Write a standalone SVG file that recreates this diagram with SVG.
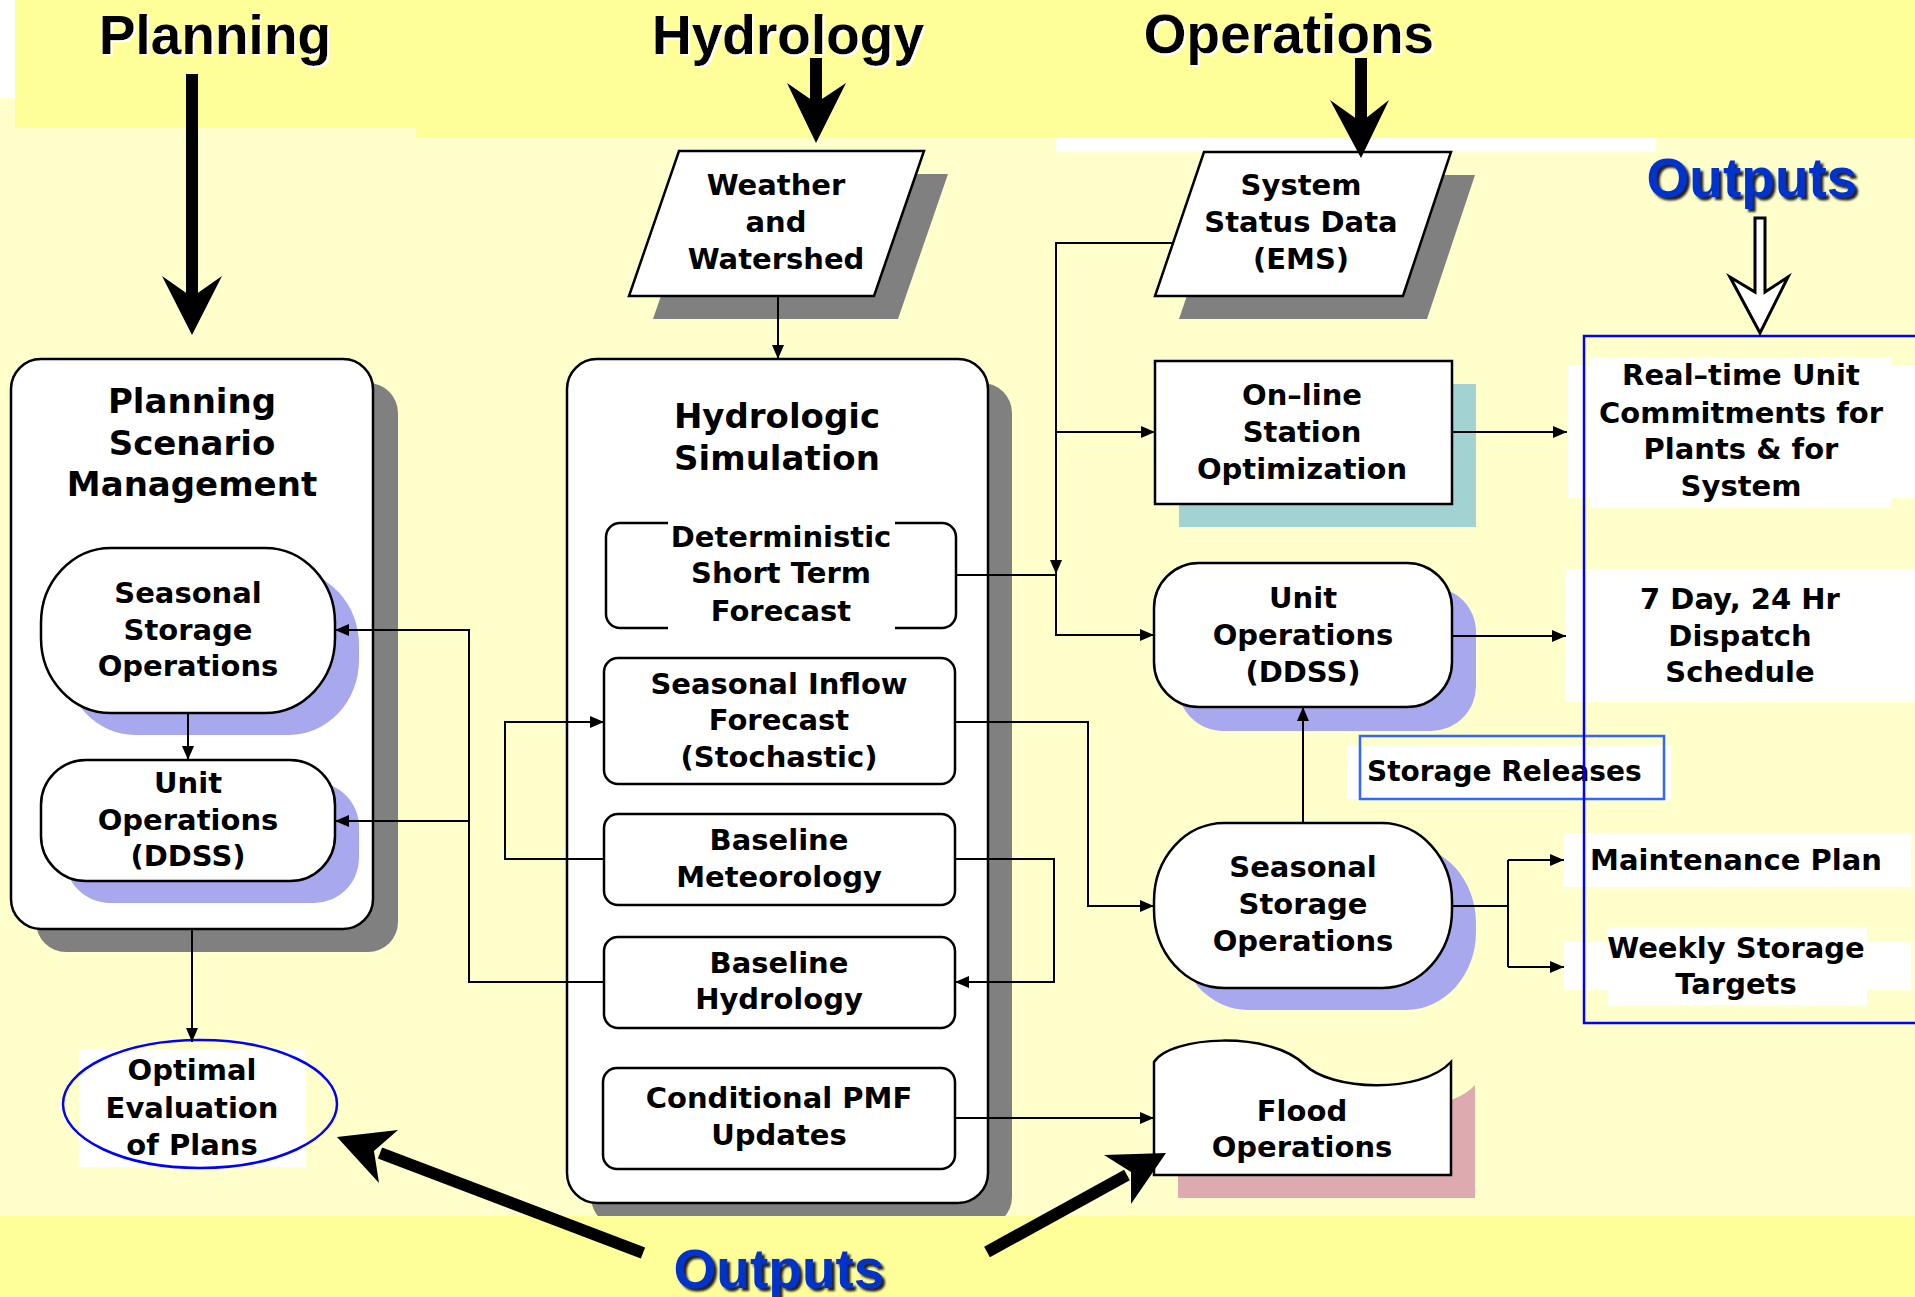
<svg xmlns="http://www.w3.org/2000/svg" width="1915" height="1297" viewBox="0 0 1915 1297">
<defs>
<style>
.t{font-family:"DejaVu Sans",Verdana,sans-serif;font-weight:bold;font-size:29px;text-anchor:middle;fill:#000}
.tt{font-size:34px}
.h{font-family:"Liberation Sans",Arial,sans-serif;font-weight:bold;font-size:55px;text-anchor:middle;fill:#000}
.o{fill:#0033CC}
.n{fill:#fff;stroke:#000;stroke-width:2.5}
.sg{fill:#808080}
.sb{fill:#A8A8EE}
.st{fill:#A3D2D2}
.sp{fill:#DDAAB0}
.c{fill:none;stroke:#000;stroke-width:2}
.w{fill:#fff}
.big{fill:none;stroke:#000;stroke-width:12}
</style>
<marker id="ah" viewBox="0 0 14 12" refX="14" refY="6" markerWidth="14" markerHeight="12" markerUnits="userSpaceOnUse" orient="auto">
<path d="M0,0 L14,6 L0,12 z" fill="#000"/>
</marker>
<filter id="glow" x="-10%" y="-10%" width="130%" height="130%"><feDropShadow dx="2" dy="2" stdDeviation="0.6" flood-color="#ffffff"/></filter>
<filter id="dsh" x="-10%" y="-10%" width="130%" height="130%"><feDropShadow dx="3" dy="3" stdDeviation="1" flood-color="#222222"/></filter>
</defs>

<g id="background">
<rect width="1915" height="1297" fill="#FFFFCC"/>
<rect x="15" y="0" width="401" height="128" fill="#FFFF99"/>
<rect x="416" y="0" width="1499" height="138" fill="#FFFF99"/>
<rect x="0" y="0" width="15" height="98" fill="#fff"/>
<rect x="1056" y="138" width="600" height="14" fill="#fff"/>
</g>

<g id="planning-container">
<rect class="sg" x="36" y="383" width="362" height="569" rx="30"/>
<rect class="n" x="11" y="359" width="362" height="570" rx="30"/>
<text class="t tt" x="192" y="413">Planning</text>
<text class="t tt" x="192" y="455">Scenario</text>
<text class="t tt" x="192" y="496">Management</text>
</g>

<g id="plan-seasonal-storage">
<rect class="sb" x="65" y="570" width="294" height="165" rx="70" ry="75"/>
<rect class="n" x="41" y="548" width="294" height="165" rx="70" ry="75"/>
<text class="t" x="188" y="603">Seasonal</text>
<text class="t" x="188" y="640">Storage</text>
<text class="t" x="188" y="676">Operations</text>
</g>

<g id="plan-unit-operations">
<rect class="sb" x="65" y="782" width="294" height="121" rx="45"/>
<rect class="n" x="41" y="760" width="294" height="121" rx="45"/>
<text class="t" x="188" y="793">Unit</text>
<text class="t" x="188" y="830">Operations</text>
<text class="t" x="188" y="866">(DDSS)</text>
</g>

<g id="optimal-evaluation">
<rect class="w" x="79" y="1049" width="227" height="118"/>
<ellipse cx="200" cy="1104" rx="137" ry="64" fill="none" stroke="#0000FF" stroke-width="2.5"/>
<text class="t" x="192" y="1080">Optimal</text>
<text class="t" x="192" y="1118">Evaluation</text>
<text class="t" x="192" y="1155">of Plans</text>
</g>

<g id="hydro-container">
<rect class="sg" x="591" y="383" width="421" height="844" rx="30"/>
<rect class="n" x="567" y="359" width="421" height="844" rx="30"/>
<text class="t tt" x="777" y="428">Hydrologic</text>
<text class="t tt" x="777" y="470">Simulation</text>
</g>

<g id="deterministic">
<rect class="n" x="606" y="523" width="350" height="105" rx="14"/>
<rect class="w" x="668" y="519" width="227" height="113"/>
<text class="t" x="781" y="547">Deterministic</text>
<text class="t" x="781" y="583">Short Term</text>
<text class="t" x="781" y="621">Forecast</text>
</g>

<g id="seasonal-inflow">
<rect class="n" x="604" y="658" width="351" height="126" rx="14"/>
<text class="t" x="779" y="694">Seasonal Inflow</text>
<text class="t" x="779" y="730">Forecast</text>
<text class="t" x="779" y="767">(Stochastic)</text>
</g>

<g id="baseline-meteorology">
<rect class="n" x="604" y="814" width="351" height="91" rx="14"/>
<text class="t" x="779" y="850">Baseline</text>
<text class="t" x="779" y="887">Meteorology</text>
</g>

<g id="baseline-hydrology">
<rect class="n" x="604" y="937" width="351" height="91" rx="14"/>
<text class="t" x="779" y="973">Baseline</text>
<text class="t" x="779" y="1009">Hydrology</text>
</g>

<g id="conditional-pmf">
<rect class="n" x="603" y="1068" width="352" height="101" rx="14"/>
<text class="t" x="779" y="1108">Conditional PMF</text>
<text class="t" x="779" y="1145">Updates</text>
</g>

<g id="weather">
<polygon class="sg" points="703,174 948,174 898,319 653,319"/>
<polygon class="n" points="679,151 924,151 874,296 629,296"/>
<text class="t" x="776" y="195">Weather</text>
<text class="t" x="776" y="232">and</text>
<text class="t" x="776" y="269">Watershed</text>
</g>

<g id="system-status">
<polygon class="sg" points="1228,175 1475,175 1427,319 1179,319"/>
<polygon class="n" points="1204,152 1451,152 1403,296 1155,296"/>
<text class="t" x="1301" y="195">System</text>
<text class="t" x="1301" y="232">Status Data</text>
<text class="t" x="1301" y="269">(EMS)</text>
</g>

<g id="online-station">
<rect class="st" x="1179" y="384" width="297" height="143"/>
<rect class="n" x="1155" y="361" width="297" height="143"/>
<text class="t" x="1302" y="405">On–line</text>
<text class="t" x="1302" y="442">Station</text>
<text class="t" x="1302" y="479">Optimization</text>
</g>

<g id="ops-unit-operations">
<rect class="sb" x="1178" y="587" width="298" height="144" rx="45"/>
<rect class="n" x="1154" y="563" width="298" height="144" rx="45"/>
<text class="t" x="1303" y="608">Unit</text>
<text class="t" x="1303" y="645">Operations</text>
<text class="t" x="1303" y="682">(DDSS)</text>
</g>

<g id="ops-seasonal-storage">
<rect class="sb" x="1178" y="845" width="298" height="165" rx="70" ry="78"/>
<rect class="n" x="1154" y="823" width="298" height="165" rx="70" ry="78"/>
<text class="t" x="1303" y="877">Seasonal</text>
<text class="t" x="1303" y="914">Storage</text>
<text class="t" x="1303" y="951">Operations</text>
</g>

<g id="flood-operations">
<path class="sp" d="M1178,1198 V1085 C1194,1059 1294,1053 1329,1088 C1354,1113 1444,1118 1475,1085 V1198 Z"/>
<path class="n" d="M1154,1175 V1062 C1170,1036 1270,1030 1305,1065 C1330,1090 1420,1095 1451,1062 V1175 Z"/>
<text class="t" x="1302" y="1121">Flood</text>
<text class="t" x="1302" y="1157">Operations</text>
</g>

<g id="storage-releases">
<rect class="w" x="1347" y="746" width="324" height="53"/>
<rect x="1360" y="736" width="304" height="63" fill="none" stroke="#3366FF" stroke-width="2.5"/>
<text class="t" x="1367" y="781" style="text-anchor:start;font-size:28px">Storage Releases</text>
</g>

<g id="out-realtime">
<rect class="w" x="1568" y="365" width="347" height="133"/>
<rect class="w" x="1590" y="357" width="301" height="151"/>
<text class="t" x="1741" y="385">Real–time Unit</text>
<text class="t" x="1741" y="423">Commitments for</text>
<text class="t" x="1741" y="459">Plants &amp; for</text>
<text class="t" x="1741" y="496">System</text>
</g>

<g id="out-dispatch">
<rect class="w" x="1566" y="569" width="349" height="133"/>
<text class="t" x="1740" y="609">7 Day, 24 Hr</text>
<text class="t" x="1740" y="646">Dispatch</text>
<text class="t" x="1740" y="682">Schedule</text>
</g>

<g id="out-maintenance">
<rect class="w" x="1564" y="833" width="347" height="54"/>
<text class="t" x="1736" y="870">Maintenance Plan</text>
</g>

<g id="out-weekly">
<rect class="w" x="1564" y="942" width="347" height="48"/>
<rect class="w" x="1608" y="927" width="259" height="78"/>
<text class="t" x="1736" y="958">Weekly Storage</text>
<text class="t" x="1736" y="994">Targets</text>
</g>

<g id="outputs-frame">
<rect x="1584" y="336" width="345" height="687" fill="none" stroke="#0000FF" stroke-width="2.5"/>
</g>

<g id="connectors">
<path class="c" d="M778,296 V359" marker-end="url(#ah)"/>
<path class="c" d="M192,929 V1042" marker-end="url(#ah)"/>
<path class="c" d="M188,713 V760" marker-end="url(#ah)"/>
<path class="c" d="M604,982 H469 V630 H335" marker-end="url(#ah)"/>
<path class="c" d="M469,821 H335" marker-end="url(#ah)"/>
<path class="c" d="M604,859 H505 V722 H604" marker-end="url(#ah)"/>
<path class="c" d="M955,859 H1054 V982 H955" marker-end="url(#ah)"/>
<path class="c" d="M1173,243 H1056 V574" marker-end="url(#ah)"/>
<path class="c" d="M1056,432 H1155" marker-end="url(#ah)"/>
<path class="c" d="M956,575 H1056 V635 H1154" marker-end="url(#ah)"/>
<path class="c" d="M955,722 H1088 V906 H1154" marker-end="url(#ah)"/>
<path class="c" d="M1303,823 V707" marker-end="url(#ah)"/>
<path class="c" d="M1452,432 H1567" marker-end="url(#ah)"/>
<path class="c" d="M1452,636 H1566" marker-end="url(#ah)"/>
<path class="c" d="M1452,906 H1508"/>
<path class="c" d="M1508,860 V967"/>
<path class="c" d="M1508,860 H1564" marker-end="url(#ah)"/>
<path class="c" d="M1508,967 H1564" marker-end="url(#ah)"/>
<path class="c" d="M955,1118 H1154" marker-end="url(#ah)"/>
</g>

<g id="bottom-band">
<rect x="0" y="1216" width="1915" height="81" fill="#FFFF99"/>
</g>

<g id="big-arrows">
<path class="big" d="M192,74 V300"/>
<polygon points="192,335 222,276 192,297 162,276" fill="#000"/>
<path class="big" d="M816,58 V105"/>
<polygon points="816,143 846,83 816,103 787,83" fill="#000"/>
<path class="big" d="M1361,58 V125"/>
<polygon points="1361,158 1389,100 1361,122 1330,100" fill="#000"/>
<path d="M1755,218 H1765 V292 L1788,277 L1760,333 L1730,277 L1755,292 Z" fill="#fff" stroke="#000" stroke-width="3" stroke-linejoin="miter"/>
<path class="big" d="M643,1253 L380,1153"/>
<polygon points="337,1137 398,1130 374,1151 379,1183" fill="#000"/>
<path class="big" d="M987,1252 L1127,1175"/>
<polygon points="1166,1153 1131,1204 1131,1172 1104,1155" fill="#000"/>
</g>

<g id="headings">
<text class="h" x="215" y="54" filter="url(#glow)">Planning</text>
<text class="h" x="788" y="54" filter="url(#glow)">Hydrology</text>
<text class="h" x="1289" y="53" filter="url(#glow)">Operations</text>
<text class="h o" x="1752" y="197" filter="url(#dsh)">Outputs</text>
<text class="h o" x="779" y="1288" filter="url(#dsh)">Outputs</text>
</g>
</svg>
